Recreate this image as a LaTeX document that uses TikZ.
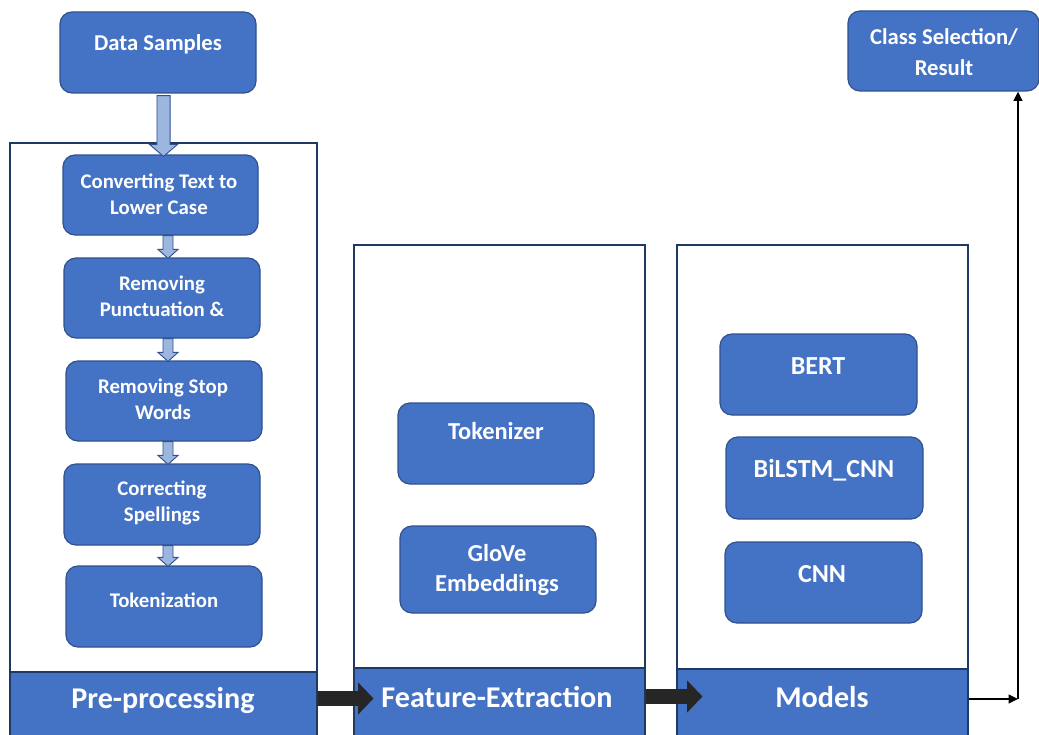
\documentclass[tikz,border=0pt]{standalone}
\usepackage{fontspec}
\setmainfont{Carlito}
\usetikzlibrary{calc,fit,arrows.meta}

\definecolor{boxblue}{RGB}{68,114,196}
\definecolor{boxedge}{RGB}{47,82,143}
\definecolor{framenavy}{RGB}{31,56,100}
\definecolor{pipefill}{RGB}{157,182,224}
\definecolor{darkarrow}{RGB}{38,38,38}

% light block arrow pointing down: start, tip, shaft half-width, head half-width, head length
\newcommand\pipearrow[5]{%
  \filldraw[draw=boxedge, fill=pipefill, line width=0.7pt]
    let \p1=#1, \p2=#2 in
    (\x1-#3,\y1) -- (\x1-#3,\y2+#5) -- (\x1-#4,\y2+#5) -- (\x1,\y2)
    -- (\x1+#4,\y2+#5) -- (\x1+#3,\y2+#5) -- (\x1+#3,\y1) -- cycle;}

% dark block arrow pointing right: start, tip
\newcommand\fatarrow[2]{%
  \fill[darkarrow]
    let \p1=#1, \p2=#2 in
    (\x1,\y1+5.6pt) -- (\x2-11.5pt,\y1+5.6pt) -- (\x2-11.5pt,\y1+12pt) -- (\x2,\y1)
    -- (\x2-11.5pt,\y1-12pt) -- (\x2-11.5pt,\y1-5.6pt) -- (\x1,\y1-5.6pt) -- cycle;}

\begin{document}
\begin{tikzpicture}[x=0.75pt, y=-0.75pt,
  stepbox/.style={draw=boxedge, fill=boxblue, line width=0.9pt, rounded corners=9pt, inner sep=0pt},
  panel/.style={draw=framenavy, line width=1.5pt, fill=white, inner sep=0pt},
  band/.style={draw=framenavy, line width=0.8pt, fill=boxblue, inner sep=0pt},
  smalltxt/.style={text=white, align=center, font=\bfseries\fontsize{15.6}{19.5}\selectfont},
  midtxt/.style={text=white, align=center, font=\bfseries\fontsize{17}{23}\selectfont},
  feattxt/.style={text=white, align=center, font=\bfseries\fontsize{18.3}{23}\selectfont},
  modeltxt/.style={text=white, align=center, font=\bfseries\fontsize{19.5}{23}\selectfont},
  bandtxt/.style={text=white, align=center, font=\bfseries\fontsize{22.6}{26}\selectfont},
  thinarrow/.style={draw=black, line width=1.4pt, -{Triangle[length=7pt,width=6.5pt]}}]

\useasboundingbox (0,0) rectangle (1039,735);

% stage frames
\node[panel, fit={(10,143) (317,740)}] (prep) {};
\node[panel, fit={(354,245) (645,740)}] (feat) {};
\node[panel, fit={(677,245) (968,740)}] (models) {};

% stage title bands
\node[band, fit={(10,672) (317,740)}] (prepband) {};
\node[band, fit={(354,668) (645,740)}] (featband) {};
\node[band, fit={(677,669) (968,740)}] (modelsband) {};
\node[bandtxt] (preplbl) at (163,700) {Pre-processing};
\node[bandtxt] (featlbl) at (497,697) {Feature-Extraction};
\node[bandtxt] (modelslbl) at (822,697) {Models};

% input and output
\node[stepbox, fit={(60,12) (256,93)}] (data) {};
\node[midtxt] (datalbl) at (158,44) {Data Samples};
\node[stepbox, fit={(848,11) (1039,91)}] (class) {};
\node[midtxt] (classlbl) at (944,52) {Class Selection/\\Result};

% pre-processing steps
\node[stepbox, fit={(63,155) (258,235)}] (s1) {};
\node[stepbox, fit={(64,258) (260,338)}] (s2) {};
\node[stepbox, fit={(66,361) (262,441)}] (s3) {};
\node[stepbox, fit={(64,464) (260,545)}] (s4) {};
\node[stepbox, fit={(66,566) (262,647)}] (s5) {};
\node[smalltxt] (s1lbl) at (159,194.5) {Converting Text to\\Lower Case};
\node[smalltxt] (s2lbl) at (162,296) {Removing\\Punctuation \&};
\node[smalltxt] (s3lbl) at (163,399) {Removing Stop\\Words};
\node[smalltxt] (s4lbl) at (162,503) {Correcting\\Spellings};
\node[smalltxt] (s5lbl) at (164,600) {Tokenization};

% feature extraction
\node[stepbox, fit={(398,403) (594,484)}] (tok) {};
\node[stepbox, fit={(400,526) (596,613)}] (glove) {};
\node[feattxt] (toklbl) at (496,431) {Tokenizer};
\node[feattxt] (glovelbl) at (497,570) {GloVe\\Embeddings};

% models
\node[stepbox, fit={(720,334) (917,415)}] (bert) {};
\node[stepbox, fit={(726,437) (923,519)}] (bilstm) {};
\node[stepbox, fit={(725,542) (922,623)}] (cnn) {};
\node[modeltxt] (bertlbl) at (818,366) {BERT};
\node[modeltxt] (bilstmlbl) at (824,470) {BiLSTM\_CNN};
\node[modeltxt] (cnnlbl) at (822,574) {CNN};

% flow between pre-processing steps
\coordinate (ax) at (168,0);
\pipearrow{($(data.south)+(5.5,2)$)}{($(s1.north)+(0,2)$)}{4.9pt}{10.5pt}{9pt}
\pipearrow{(s1.south -| ax)}{($(s2.north)+(0,1)$)}{3.75pt}{7.5pt}{6.75pt}
\pipearrow{(s2.south -| ax)}{($(s3.north)+(0,1)$)}{3.75pt}{7.5pt}{6.75pt}
\pipearrow{(s3.south -| ax)}{($(s4.north)+(0,1)$)}{3.75pt}{7.5pt}{6.75pt}
\pipearrow{(s4.south -| ax)}{($(s5.north)+(0,1)$)}{3.75pt}{7.5pt}{6.75pt}

% flow between stages
\fatarrow{($(prepband.east)+(0,-7.5)$)}{($(featband.west)+(20,0)$)}
\fatarrow{($(featband.east)+(0,-7.5)$)}{($(modelsband.west)+(26,0)$)}

% route to the result
\coordinate (exitpt) at ($(modelsband.east)+(0,-5.5)$);
\coordinate (turnx) at (1018,0);
\coordinate (turn) at (exitpt -| turnx);
\draw[thinarrow] (exitpt) -- (turn);
\draw[thinarrow] (turn) -- (turn |- class.south);
\end{tikzpicture}
\end{document}
